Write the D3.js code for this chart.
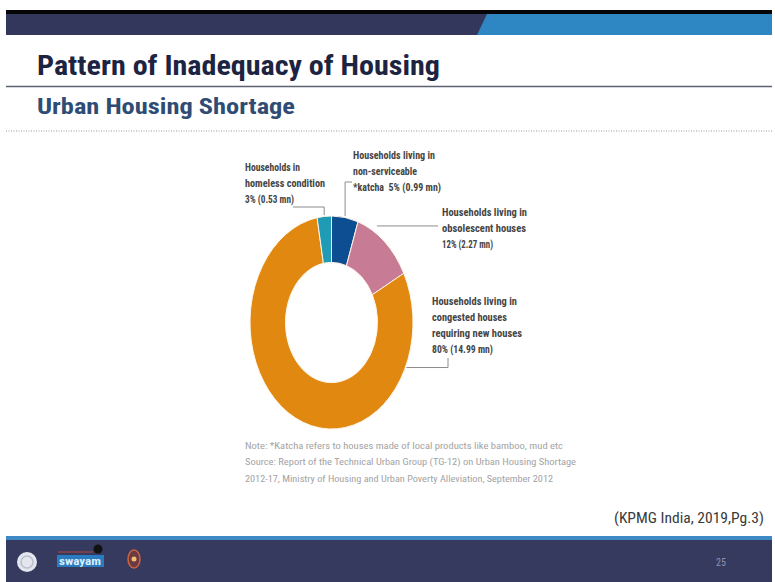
<!DOCTYPE html>
<html>
<head>
<meta charset="utf-8">
<script src="https://cdn.jsdelivr.net/npm/d3@7"></script>
<style>
  html, body { margin: 0; padding: 0; background: #ffffff; }
  svg { display: block; }
</style>
</head>
<body>
<svg id="chart" width="775" height="582"></svg>
<script>
// ---- data -------------------------------------------------------------
const categories = [
  "Non-serviceable katcha",
  "Obsolescent houses",
  "Congested houses requiring new houses",
  "Homeless condition"
];
const shortageMn = [0.99, 2.27, 14.99, 0.53];   // million households
const sharePct   = [5, 12, 80, 3];              // share of total shortage
const labelHeads = [
  ["Households living in", "non-serviceable"],
  ["Households living in", "obsolescent houses"],
  ["Households living in", "congested houses", "requiring new houses"],
  ["Households in", "homeless condition"]
];
const labelPrefix = ["*katcha\u00a0\u00a0", "", "", ""];
const sliceColors = ["#0d4d92", "#c87b94", "#e0880f", "#1f9bb5"];
const noteLines = [
  "Note: *Katcha refers to houses made of local products like bamboo, mud etc",
  "Source: Report of the Technical Urban Group (TG-12) on Urban Housing Shortage",
  "2012-17, Ministry of Housing and Urban Poverty Alleviation, September 2012"
];
const titleText = "Pattern of Inadequacy of Housing";
const subtitleText = "Urban Housing Shortage";
const citationText = "(KPMG India, 2019,Pg.3)";
const pageNumber = "25";

// ---- page frame -------------------------------------------------------
const svg = d3.select("#chart");
const W = 775, H = 582;
const L = 6, R = 772;
const condensed = "'Liberation Sans Narrow', 'Roboto Condensed', 'DejaVu Sans Condensed', Roboto, sans-serif";

svg.append("rect").attr("width", W).attr("height", H).attr("fill", "#ffffff");

// header bars
svg.append("rect").attr("x", L).attr("y", 10).attr("width", R - L).attr("height", 4).attr("fill", "#050508");
svg.append("rect").attr("x", L).attr("y", 14).attr("width", R - L).attr("height", 21).attr("fill", "#34375c");
svg.append("path")
  .attr("d", d3.line()([[487, 14], [R, 14], [R, 35], [477, 35]]) + "Z")
  .attr("fill", "#2e87c3");

// helper: text squeezed to a measured width
function fitText(sel, width) {
  sel.attr("textLength", width).attr("lengthAdjust", "spacingAndGlyphs");
  return sel;
}

// title + subtitle
fitText(svg.append("text")
  .attr("x", 37).attr("y", 75)
  .attr("font-family", condensed).attr("font-weight", "bold").attr("font-size", 27)
  .attr("fill", "#1d2442").text(titleText), 403);

svg.append("line").attr("x1", L).attr("x2", R).attr("y1", 86.5).attr("y2", 86.5)
  .attr("stroke", "#5d6272").attr("stroke-width", 1.5);

fitText(svg.append("text")
  .attr("x", 37).attr("y", 114)
  .attr("font-family", condensed).attr("font-weight", "bold").attr("font-size", 22)
  .attr("fill", "#2f4c74").text(subtitleText), 258);

svg.append("line").attr("x1", L).attr("x2", R).attr("y1", 131).attr("y2", 131)
  .attr("stroke", "#9a9a9a").attr("stroke-width", 1).attr("stroke-dasharray", "1,1.5");

// ---- donut ------------------------------------------------------------
const cx = 331.5, cy = 322.5;
const outerR = 81.5, innerR = 46, yStretch = 1.307;

const pie = d3.pie().sort(null).value(d => d)(shortageMn);
const arc = d3.arc().innerRadius(innerR).outerRadius(outerR);

const donut = svg.append("g")
  .attr("transform", `translate(${cx},${cy}) scale(1,${yStretch})`);

donut.selectAll("path.slice")
  .data(pie)
  .join("path")
  .attr("class", "slice")
  .attr("d", arc)
  .attr("fill", (d, i) => sliceColors[i])
  .attr("stroke", "#fff5e8")
  .attr("stroke-width", 1)
  .attr("vector-effect", "non-scaling-stroke");

// point on the stretched outer rim at a given angle (radians, clockwise from 12 o'clock)
function rimPoint(a, r) {
  return [cx + r * Math.sin(a), cy - r * yStretch * Math.cos(a)];
}
const deg = Math.PI / 180;
const midAngle = d => (d.startAngle + d.endAngle) / 2;

// ---- labels with leader lines -------------------------------------------
const labelLayout = [
  { x: 353, y: 159, widths: [82, 64, 88] },
  { x: 442, y: 215.5, widths: [85, 84, 51] },
  { x: 432, y: 305, widths: [85, 75, 90, 61] },
  { x: 245, y: 170.5, widths: [55, 80, 49] }
];
const lineGap = 16;

const leaderPaths = [
  d => { const [ax, ay] = rimPoint(midAngle(d), outerR + 1); return `M352,182H${ax}V${ay}`; },
  d => { const [ax, ay] = rimPoint(25 * deg, outerR); return `M${ax + 11},${ay}H438`; },
  d => { const [ax, ay] = rimPoint(115 * deg, outerR); return `M${ax + 1},${ay}H448V358`; },
  d => { const [ax, ay] = rimPoint(midAngle(d), outerR + 1); return `M293,207H${ax}V${ay}`; }
];

const labels = svg.append("g").attr("class", "labels");
pie.forEach((d, i) => {
  labels.append("path")
    .attr("d", leaderPaths[i](d))
    .attr("fill", "none").attr("stroke", "#8c8c8c").attr("stroke-width", 1);

  const lines = labelHeads[i].concat(
    `${labelPrefix[i]}${sharePct[i]}% (${shortageMn[i].toFixed(2)} mn)`);
  const lay = labelLayout[i];
  lines.forEach((t, k) => {
    fitText(labels.append("text")
      .attr("x", lay.x).attr("y", lay.y + k * lineGap)
      .attr("font-family", condensed).attr("font-weight", "bold").attr("font-size", 10)
      .attr("fill", "#454545").text(t), lay.widths[k]);
  });
});

// ---- note / source ------------------------------------------------------
const noteWidths = [318, 331, 308];
noteLines.forEach((t, k) => {
  fitText(svg.append("text")
    .attr("x", 245).attr("y", 448.5 + k * 16.5)
    .attr("font-family", condensed).attr("font-size", 9.5)
    .attr("fill", "#a3a3a3").text(t), noteWidths[k]);
});

// citation
fitText(svg.append("text")
  .attr("x", 614).attr("y", 523)
  .attr("font-family", condensed).attr("font-size", 15)
  .attr("fill", "#3a3a3a").text(citationText), 150);

// ---- footer -------------------------------------------------------------
svg.append("rect").attr("x", L).attr("y", 536).attr("width", R - L).attr("height", 4).attr("fill", "#3d89c6");
svg.append("rect").attr("x", L).attr("y", 540).attr("width", R - L).attr("height", H - 540).attr("fill", "#363a5f");

// emblem
svg.append("circle").attr("cx", 27).attr("cy", 562).attr("r", 10).attr("fill", "#e3e6ee");
svg.append("circle").attr("cx", 27).attr("cy", 562).attr("r", 6).attr("fill", "none")
  .attr("stroke", "#b9bfcc").attr("stroke-width", 1.5);

// course platform mark
svg.append("line").attr("x1", 58).attr("x2", 93).attr("y1", 552).attr("y2", 552)
  .attr("stroke", "#b5473f").attr("stroke-width", 1);
svg.append("circle").attr("cx", 98).attr("cy", 549).attr("r", 4.5).attr("fill", "#111");
svg.append("rect").attr("x", 57).attr("y", 555).attr("width", 47).attr("height", 12).attr("fill", "#2a7bbf");
fitText(svg.append("text").attr("x", 59).attr("y", 565)
  .attr("font-family", condensed).attr("font-weight", "bold").attr("font-size", 11)
  .attr("fill", "#d8ecfb").text("swayam"), 42);

// institute mark
svg.append("ellipse").attr("cx", 134).attr("cy", 559).attr("rx", 6).attr("ry", 9)
  .attr("fill", "#6b3a45").attr("stroke", "#c9653e").attr("stroke-width", 1.5);
svg.append("circle").attr("cx", 134).attr("cy", 559).attr("r", 2.5).attr("fill", "#f1c06a");

svg.append("text").attr("x", 716).attr("y", 566)
  .attr("font-family", condensed).attr("font-size", 10)
  .attr("fill", "#8d92b2").text(pageNumber);
</script>
</body>
</html>
